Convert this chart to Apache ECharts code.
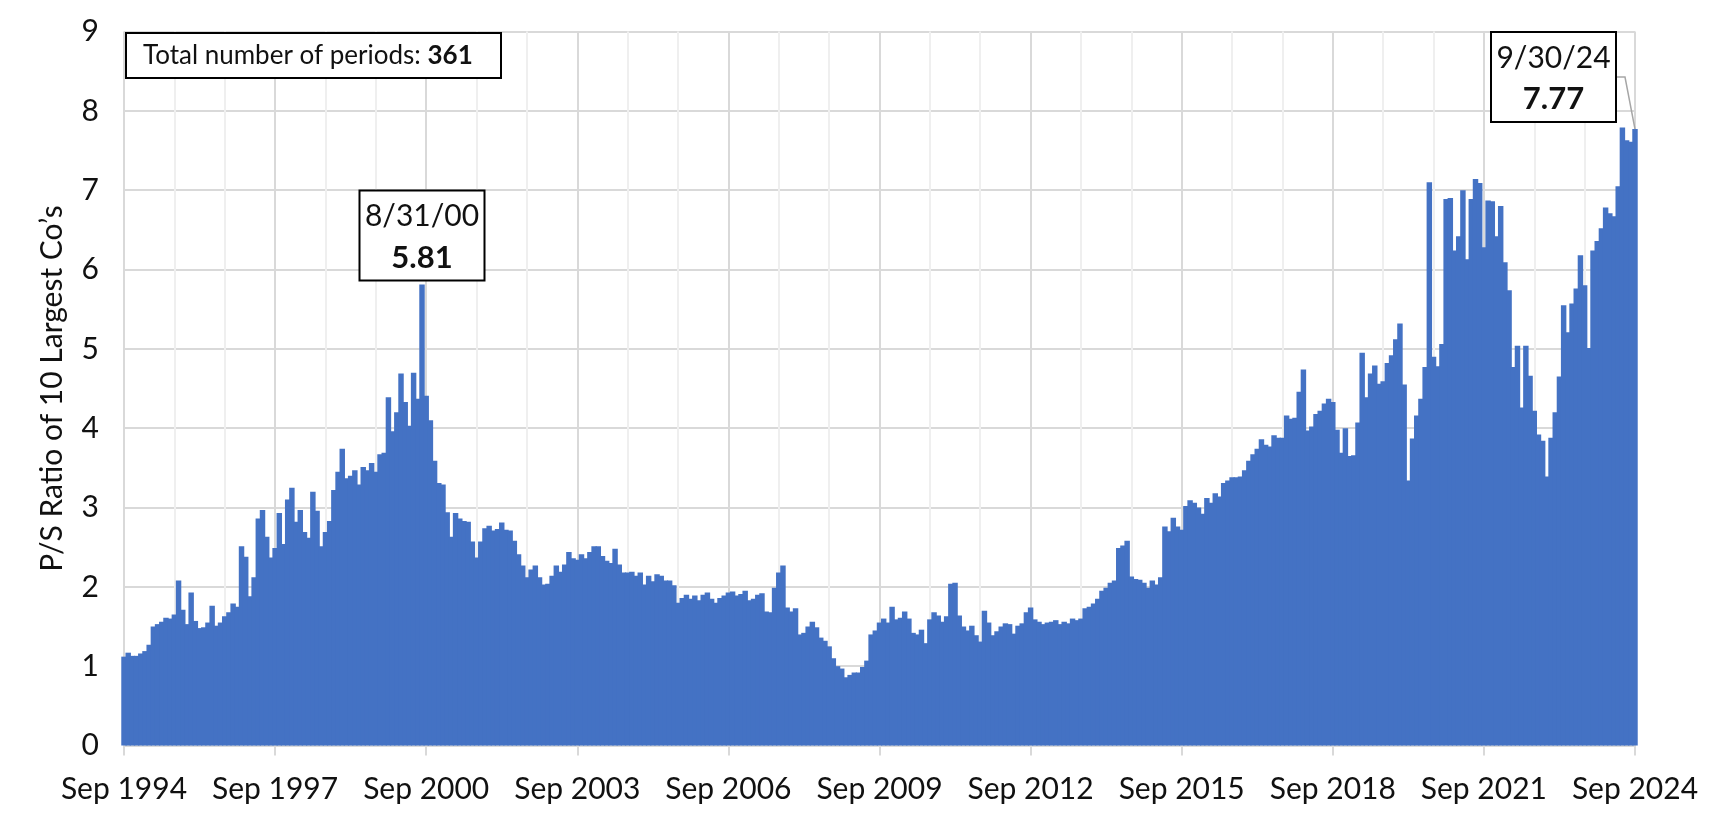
<!DOCTYPE html>
<html>
<head>
<meta charset="utf-8">
<title>P/S Ratio of 10 Largest Co's</title>
<script src="https://cdn.jsdelivr.net/npm/echarts@6/dist/echarts.min.js"></script>
<style>
  html, body { margin: 0; padding: 0; background: #fff; }
  #chart { width: 1724px; height: 825px; }
</style>
</head>
<body>
<div id="chart"></div>
<script>
// monthly P/S ratio of the 10 largest companies, Sep 1994 .. Sep 2024
// one row = 12 months, starting in September
const psRatio = [
  1.12, 1.17, 1.13, 1.13, 1.16, 1.19, 1.27, 1.50, 1.53, 1.56, 1.61, 1.60,
  1.65, 2.08, 1.71, 1.53, 1.93, 1.57, 1.48, 1.49, 1.55, 1.76, 1.51, 1.55,
  1.63, 1.68, 1.79, 1.75, 2.51, 2.38, 1.88, 2.12, 2.86, 2.97, 2.63, 2.37,
  2.49, 2.93, 2.54, 3.10, 3.25, 2.82, 2.97, 2.69, 2.62, 3.20, 2.96, 2.51,
  2.69, 2.83, 3.22, 3.45, 3.74, 3.37, 3.40, 3.47, 3.29, 3.51, 3.47, 3.56,
  3.45, 3.67, 3.69, 4.39, 3.96, 4.20, 4.69, 4.33, 4.03, 4.70, 4.37, 5.81,
  4.41, 4.10, 3.59, 3.31, 3.29, 2.94, 2.63, 2.93, 2.86, 2.83, 2.82, 2.57,
  2.37, 2.57, 2.74, 2.77, 2.71, 2.73, 2.81, 2.72, 2.71, 2.58, 2.41, 2.27,
  2.12, 2.22, 2.27, 2.12, 2.03, 2.04, 2.14, 2.27, 2.19, 2.28, 2.44, 2.36,
  2.34, 2.41, 2.36, 2.44, 2.51, 2.51, 2.39, 2.33, 2.30, 2.48, 2.28, 2.18,
  2.18, 2.19, 2.14, 2.18, 2.03, 2.14, 2.07, 2.16, 2.14, 2.08, 2.08, 2.02,
  1.80, 1.86, 1.90, 1.85, 1.89, 1.83, 1.90, 1.93, 1.85, 1.80, 1.86, 1.89,
  1.93, 1.94, 1.89, 1.91, 1.95, 1.83, 1.85, 1.90, 1.92, 1.69, 1.68, 1.99,
  2.18, 2.27, 1.74, 1.69, 1.73, 1.40, 1.42, 1.50, 1.56, 1.49, 1.36, 1.32,
  1.25, 1.10, 1.00, 0.97, 0.86, 0.89, 0.92, 0.92, 0.99, 1.07, 1.40, 1.45,
  1.55, 1.60, 1.55, 1.75, 1.59, 1.61, 1.69, 1.60, 1.42, 1.40, 1.46, 1.29,
  1.59, 1.68, 1.64, 1.56, 1.63, 2.04, 2.05, 1.64, 1.50, 1.45, 1.51, 1.39,
  1.31, 1.70, 1.55, 1.39, 1.44, 1.50, 1.54, 1.53, 1.41, 1.51, 1.54, 1.68,
  1.74, 1.59, 1.56, 1.53, 1.55, 1.56, 1.58, 1.53, 1.56, 1.54, 1.60, 1.58,
  1.60, 1.73, 1.75, 1.79, 1.85, 1.95, 1.99, 2.05, 2.08, 2.49, 2.52, 2.58,
  2.13, 2.10, 2.09, 2.05, 1.99, 2.08, 2.03, 2.12, 2.76, 2.70, 2.87, 2.76,
  2.72, 3.02, 3.09, 3.06, 3.00, 2.92, 3.12, 3.06, 3.18, 3.14, 3.31, 3.34,
  3.38, 3.38, 3.39, 3.47, 3.59, 3.67, 3.74, 3.86, 3.79, 3.77, 3.91, 3.88,
  3.88, 4.16, 4.12, 4.13, 4.46, 4.74, 3.97, 4.02, 4.18, 4.22, 4.31, 4.37,
  4.33, 3.98, 3.69, 4.00, 3.65, 3.66, 4.07, 4.95, 4.39, 4.69, 4.79, 4.56,
  4.59, 4.82, 4.92, 5.12, 5.32, 4.55, 3.34, 3.87, 4.16, 4.37, 4.77, 7.10,
  4.90, 4.78, 5.06, 6.89, 6.90, 6.24, 6.42, 7.00, 6.13, 6.89, 7.14, 7.09,
  6.28, 6.87, 6.86, 6.42, 6.80, 6.09, 5.74, 4.77, 5.04, 4.26, 5.04, 4.66,
  4.22, 3.92, 3.84, 3.39, 3.88, 4.20, 4.65, 5.55, 5.21, 5.57, 5.76, 6.18,
  5.80, 5.01, 6.24, 6.36, 6.52, 6.78, 6.71, 6.67, 7.05, 7.79, 7.63, 7.61,
  7.77
]

const monthNames = ['Jan', 'Feb', 'Mar', 'Apr', 'May', 'Jun', 'Jul', 'Aug', 'Sep', 'Oct', 'Nov', 'Dec']
const startYear = 1994
const startMonth = 8 // Sep
const months = psRatio.map((v, i) => {
  const m = startMonth + i
  return monthNames[m % 12] + ' ' + (startYear + Math.floor(m / 12))
})

// the two called-out periods
const notes = [
  { index: 71, date: '8/31/00' },
  { index: 360, date: '9/30/24' }
]

const font = 'Lato, "Noto Sans", sans-serif'
const textColor = '#111'
const barColor = '#4472c4'

const chart = echarts.init(document.getElementById('chart'))

const option = {
  animation: false,
  grid: { left: 124, right: 89, top: 31.5, bottom: 79.5 },
  xAxis: {
    type: 'category',
    data: months,
    boundaryGap: false,
    axisLine: { lineStyle: { color: '#d9d9d9', width: 2 } },
    axisTick: {
      interval: (i) => i % 36 === 0,
      length: 10,
      lineStyle: { color: '#d9d9d9', width: 2 }
    },
    axisLabel: {
      interval: (i) => i % 36 === 0,
      margin: 29,
      fontFamily: font,
      fontSize: 30,
      color: textColor
    },
    splitLine: {
      show: true,
      interval: (i) => i % 12 === 0,
      // every 3rd year darker
      lineStyle: { color: ['#d9d9d9', '#efefef', '#efefef'], width: 2 }
    }
  },
  yAxis: {
    type: 'value',
    min: 0,
    max: 9,
    interval: 1,
    name: 'P/S Ratio of 10 Largest Co’s',
    nameLocation: 'middle',
    nameGap: 57,
    nameTextStyle: { fontFamily: font, fontSize: 30, color: textColor },
    axisLine: { show: false },
    axisTick: { show: false },
    axisLabel: { margin: 25, fontFamily: font, fontSize: 30, color: textColor },
    splitLine: { lineStyle: { color: '#d9d9d9', width: 2 } }
  },
  series: [
    {
      type: 'bar',
      data: psRatio,
      // a little wider than the band so neighbouring bars overlap and leave no seams
      barWidth: '130%',
      itemStyle: { color: barColor },
      clip: true
    }
  ]
}

chart.setOption(option)

// call-out boxes, placed from the bars they point at
const graphics = []

graphics.push({
  type: 'rect',
  shape: { x: 126, y: 33, width: 375, height: 45 },
  style: { fill: '#fff', stroke: '#000', lineWidth: 2 },
  z: 100
})
graphics.push({
  type: 'text',
  x: 143,
  y: 56,
  style: {
    text: '{a|Total number of periods: }{b|' + psRatio.length + '}',
    verticalAlign: 'middle',
    rich: {
      a: { fontFamily: font, fontSize: 26, fill: textColor },
      b: { fontFamily: font, fontSize: 26, fontWeight: 'bold', fill: textColor }
    }
  },
  z: 101
})

notes.forEach((n, k) => {
  const [px, py] = chart.convertToPixel({ seriesIndex: 0 }, [n.index, psRatio[n.index]])
  const w = 125
  const h = 90
  let left, top
  if (k === 0) {
    left = px - w / 2
    top = py - 4 - h
  } else {
    left = px - 19 - w
    top = 32
    graphics.push({
      type: 'polyline',
      shape: { points: [[left + w, top + h / 2], [left + w + 9, top + h / 2], [px, py]] },
      style: { stroke: '#a6a6a6', lineWidth: 1.5, fill: null },
      z: 99
    })
  }
  graphics.push({
    type: 'rect',
    shape: { x: left, y: top, width: w, height: h },
    style: { fill: '#fff', stroke: '#000', lineWidth: 2 },
    z: 100
  })
  graphics.push({
    type: 'text',
    x: left + w / 2,
    y: top + 26,
    style: { text: n.date, fontFamily: font, fontSize: 30, fill: textColor, align: 'center', verticalAlign: 'middle' },
    z: 101
  })
  graphics.push({
    type: 'text',
    x: left + w / 2,
    y: top + 67,
    style: { text: psRatio[n.index].toFixed(2), fontFamily: font, fontSize: 31, fontWeight: 'bold', fill: textColor, align: 'center', verticalAlign: 'middle' },
    z: 101
  })
})

chart.setOption({ graphic: graphics })
</script>
</body>
</html>
